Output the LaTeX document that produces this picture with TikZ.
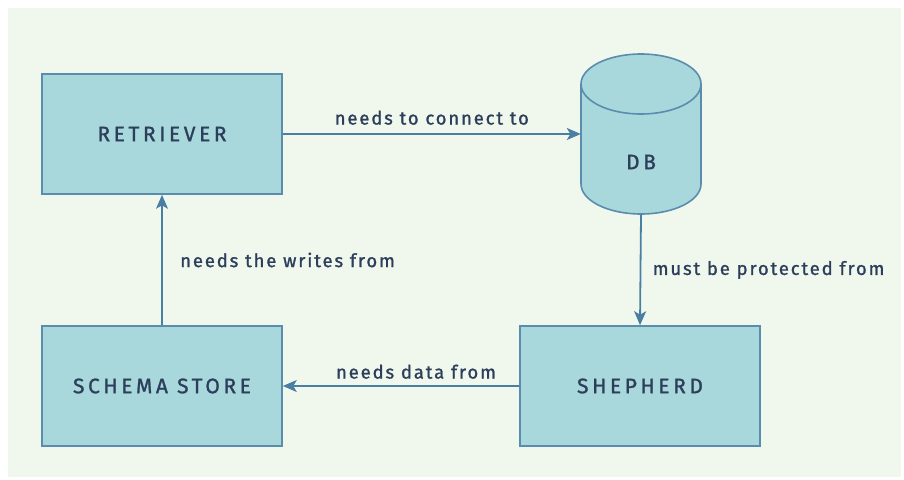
\documentclass[tikz,border=0pt]{standalone}
\usepackage{fontspec}
\setmainfont[LetterSpace=10, FakeBold=1.2]{Fira Sans}
\newfontfamily\boxfont[LetterSpace=17, FakeBold=1.2]{Fira Sans}
\usetikzlibrary{arrows.meta}
\definecolor{bgcol}{HTML}{F0F8EE}
\definecolor{boxcol}{HTML}{A8D8DC}
\definecolor{edgecol}{HTML}{5A8CAE}
\definecolor{linecol}{HTML}{4A7FA3}
\definecolor{txtcol}{HTML}{2C3E5A}
\begin{document}
\begin{tikzpicture}[x=1pt, y=-1pt, >={Stealth[length=14pt, width=12pt, inset=3.5pt]}]
        \tikzset{
            block/.style = {draw=edgecol, fill=boxcol, line width=1.6pt, rectangle,
                            minimum width=240pt, minimum height=120pt,
                            text=txtcol, font=\boxfont\fontsize{21}{24}\selectfont},
            store/.style = {minimum width=120pt, minimum height=161pt, inner sep=0pt},
            drum/.style  = {draw=edgecol, fill=boxcol, line width=1.6pt},
            tag/.style   = {text=txtcol, font=\fontsize{18.5}{21}\selectfont},
            flow/.style  = {->, draw=linecol, line width=1.8pt}
        }
        \useasboundingbox (0,0) rectangle (904,479);
        \fill[bgcol] (8,8) rectangle (901,477);

        \node[block] (RET) at (162,134) {RETRIEVER};
        \node[block] (SCH) at (162,386) {SCHEMA STORE};
        \node[block] (SHE) at (640,386) {SHEPHERD};
        \node[store] (DB) at (641,134) {};

        % database drum
        \draw[drum] (581,84) -- (581,184)
            arc[start angle=180, end angle=0, x radius=60, y radius=30] -- (701,84)
            arc[start angle=0, end angle=-180, x radius=60, y radius=30] -- cycle;
        \draw[drum, fill=none] (581,84) arc[start angle=180, end angle=0, x radius=60, y radius=30];
        \node[text=txtcol, font=\boxfont\fontsize{21}{24}\selectfont] (DBTXT) at (641,162) {DB};

        \draw[flow] (RET.east) to node[tag, above=5pt]{needs to connect to} (DB.west);
        \draw[flow] (DB.south) to node[tag, right=8pt]{must be protected from} (SHE.north);
        \draw[flow] (SHE.west) to node[tag, above=3pt, xshift=15pt]{needs data from} (SCH.east);
        \draw[flow] (SCH.north) to node[tag, right=14pt]{needs the writes from} (RET.south);
    \end{tikzpicture}
\end{document}
